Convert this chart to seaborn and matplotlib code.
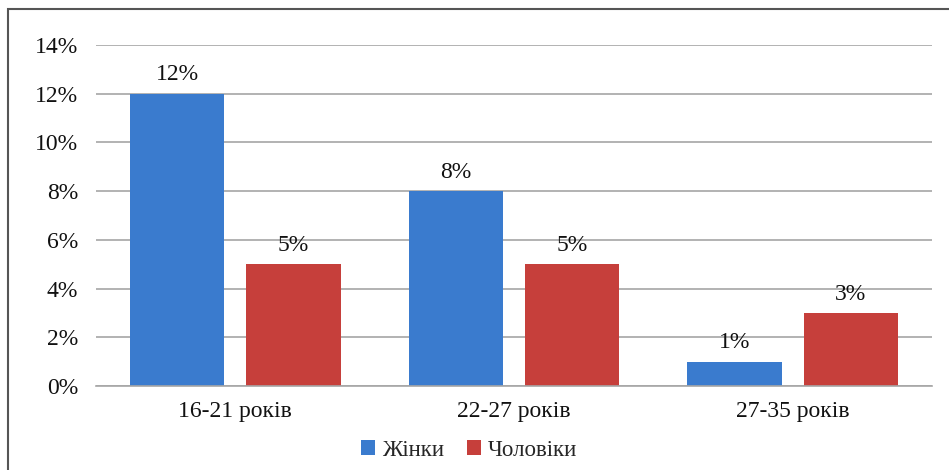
import matplotlib
matplotlib.use("Agg")
import matplotlib.pyplot as plt
import seaborn as sns
import pandas as pd
from matplotlib.patches import Rectangle

categories = ["16-21 років", "22-27 років", "27-35 років"]
women = [12, 8, 1]
men = [5, 5, 3]
series_names = ["Жінки", "Чоловіки"]
yticks = [0, 2, 4, 6, 8, 10, 12, 14]

df = pd.DataFrame({
    "cat": categories * 2,
    "val": women + men,
    "ser": [series_names[0]] * 3 + [series_names[1]] * 3,
})

sns.set_theme(style="white")
plt.rcParams['font.family'] = ['Liberation Serif', 'DejaVu Serif']

fig = plt.figure(figsize=(9.49, 4.70), dpi=100)
ax = fig.add_axes([96/949, 1-386/470, (932-96)/949, (386-45)/470])

palette = {"Жінки": "#3A7BCE", "Чоловіки": "#C63F3B"}
sns.barplot(data=df, x="cat", y="val", hue="ser", palette=palette, ax=ax,
            width=0.836, gap=0.19, edgecolor="none", saturation=1, legend=True)

for cont in ax.containers:
    ax.bar_label(cont, labels=[f"{int(v)}%" for v in cont.datavalues],
                 padding=6, fontsize=17, color="#111111")

ax.set_ylim(0, 14)
ax.set_yticks(yticks)
ax.set_yticklabels([f"{t}%" for t in yticks], fontsize=17, color="#111111")
ax.tick_params(axis="y", length=0, pad=13)
ax.tick_params(axis="x", length=0, pad=11, labelsize=17, labelcolor="#111111")
ax.set_xlabel("")
ax.set_ylabel("")
ax.yaxis.grid(True, color="#a6a6a6", linewidth=1.2)
ax.set_axisbelow(True)
for s in ["top", "right", "left"]:
    ax.spines[s].set_visible(False)
ax.spines["bottom"].set_color("#a6a6a6")
ax.spines["bottom"].set_linewidth(1.2)

leg = ax.legend(loc="center", bbox_to_anchor=((469-96)/836, (386-450)/(386-45)),
                ncol=2, frameon=False, fontsize=16.5, handlelength=0.6,
                handleheight=0.6, handletextpad=0.3, columnspacing=1.0)

fig.patches.append(Rectangle((8/949, -0.1), 1.2, 1 - 9/470 + 0.1,
                             transform=fig.transFigure, fill=False,
                             edgecolor="#555555", linewidth=1.5))

fig.savefig("out.png", dpi=100)
